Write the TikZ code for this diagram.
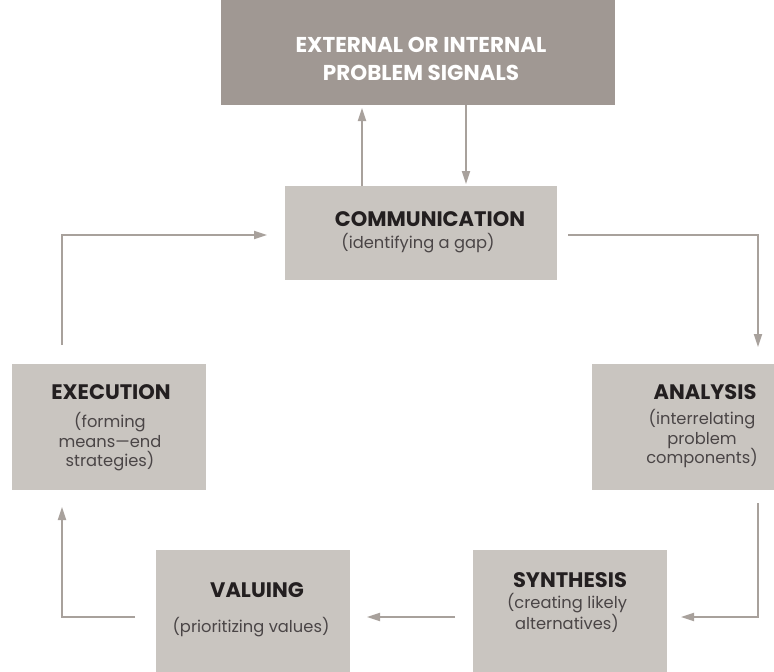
\documentclass[tikz,border=0pt]{standalone}
\usepackage{fontspec}
\setmainfont{Poppins}
\usetikzlibrary{arrows.meta,calc}
\definecolor{darkbox}{HTML}{A09893}
\definecolor{lightbox}{HTML}{C9C5C0}
\definecolor{linecol}{HTML}{A8A19C}
\definecolor{titlecol}{HTML}{231F20}
\definecolor{subcol}{HTML}{4A4546}
\tikzset{
  box/.style={fill=lightbox, draw=none, inner sep=0pt, anchor=north west},
  topbox/.style={fill=darkbox, draw=none, inner sep=0pt, anchor=north west},
  title/.style={font=\bfseries\fontsize{21}{23}\selectfont, text=titlecol, inner sep=0pt},
  toptitle/.style={font=\bfseries\fontsize{21.5}{28}\selectfont, text=white, inner sep=0pt, align=center},
  sub/.style={font=\fontsize{16.3}{19.5}\selectfont, text=subcol, inner sep=0pt, align=center},
  conn/.style={draw=linecol, line width=1.8pt, -{Triangle[length=13pt,width=8pt]}},
  plain/.style={draw=linecol, line width=1.8pt}
}
\begin{document}
\begin{tikzpicture}[x=1pt,y=-1pt]
\useasboundingbox (0,0) rectangle (774,672);
% boxes
\node[topbox, minimum width=394pt, minimum height=105pt] (sig) at (221,0) {};
\node[box, minimum width=272pt, minimum height=94pt] (comm) at (285,186) {};
\node[box, minimum width=194pt, minimum height=126pt] (exec) at (12,364) {};
\node[box, minimum width=182pt, minimum height=126pt] (ana) at (592,364) {};
\node[box, minimum width=194pt, minimum height=122pt] (val) at (156,550) {};
\node[box, minimum width=194pt, minimum height=122pt] (syn) at (473,550) {};
% texts
\node[toptitle] (sigt) at (421,59) {EXTERNAL OR INTERNAL\\PROBLEM SIGNALS};
\node[title] (commt) at (430,219) {COMMUNICATION};
\node[sub] (comms) at (418,243) {(identifying a gap)};
\node[title] (exect) at (111,392) {EXECUTION};
\node[sub] (execs) at (110,442) {(forming\\means—end\\strategies)};
\node[title] (anat) at (705,392) {ANALYSIS};
\node[sub] (anas) at (702,439) {(interrelating\\problem\\components)};
\node[title] (valt) at (257,590) {VALUING};
\node[sub] (vals) at (251,627) {(prioritizing values)};
\node[title] (synt) at (570,580) {SYNTHESIS};
\node[sub] (syns) at (567,613) {(creating likely\\alternatives)};
% connector ends
\coordinate (c1s) at (362,186);
\coordinate (c1e) at (362,108);
\coordinate (c2s) at (466,105);
\coordinate (c2e) at (466,184);
\coordinate (c3s) at (62,345);
\coordinate (c3e) at (267,235);
\coordinate (c4s) at (568,235);
\coordinate (c4e) at (758,347);
\coordinate (c5s) at (758,503);
\coordinate (c5e) at (681,617);
\coordinate (c6s) at (455,617);
\coordinate (c6e) at (367,617);
\coordinate (c7s) at (135,617);
\coordinate (c7e) at (62,507);
% connectors
\draw[conn] (c1s) -- (c1e);
\draw[conn] (c2s) -- (c2e);
\draw[conn] (c3s) |- (c3e);
\draw[conn] (c4s) -| (c4e);
\draw[conn] (c5s) |- (c5e);
\draw[conn] (c6s) -- (c6e);
\draw[conn] (c7s) -| (c7e);
\end{tikzpicture}
\end{document}
